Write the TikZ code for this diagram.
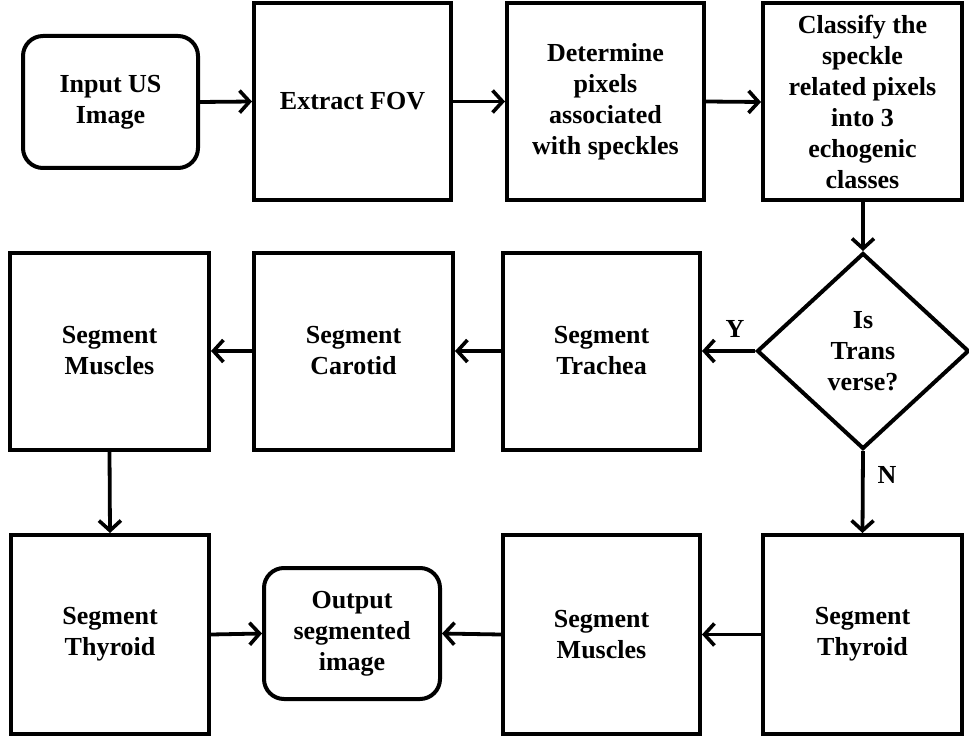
\documentclass[tikz,border=0pt]{standalone}
\usepackage{fontspec}
\setmainfont{Liberation Serif}
\usetikzlibrary{shapes.geometric,arrows.meta}
\begin{document}
\begin{tikzpicture}[x=1pt,y=-1pt,
  every node/.style={font=\fontsize{26}{31}\selectfont\bfseries, align=center, inner sep=0pt},
  box/.style={draw, line width=4pt, minimum width=197pt, minimum height=197pt},
  term/.style={draw, line width=4pt, rounded corners=20pt},
  decide/.style={draw, line width=4pt, diamond, minimum width=212pt, minimum height=196pt},
  flow/.style={line width=3.8pt, -{Straight Barb[length=10pt,width=22pt,line width=3.6pt]}},
  lbl/.style={font=\fontsize{26}{31}\selectfont\bfseries}
]
\useasboundingbox (0,0) rectangle (969,738);
% row 1
\node[term, minimum width=175pt, minimum height=132pt] (in) at (110.5,102) {Input US\\Image};
\node[box] (ext) at (352.5,101.5) {Extract FOV};
\node[box] (det) at (605.5,101.5) {Determine\\pixels\\associated\\with speckles};
\node[box, minimum width=199pt] (cls) at (862.5,102) {Classify the\\speckle\\related pixels\\into 3\\echogenic\\classes};
% row 2
\node[box, minimum width=199pt] (mus1) at (109.5,351) {Segment\\Muscles};
\node[box, minimum width=199pt] (car) at (353.5,351) {Segment\\Carotid};
\node[box] (tra) at (601.5,351) {Segment\\Trachea};
\node[decide] (dia) at (863,351) {Is\\Trans\\verse?};
% row 3
\node[box, minimum width=198pt, minimum height=199pt] (thy1) at (110,634.5) {Segment\\Thyroid};
\node[term, minimum width=176pt, minimum height=131pt] (out) at (352,633.5) {Output\\segmented\\image};
\node[box, minimum height=199pt] (mus2) at (601.5,634.5) {Segment\\Muscles};
\node[box, minimum width=199pt, minimum height=199pt] (thy2) at (862.5,634.5) {Segment\\Thyroid};
% connectors
\draw[flow] (in.east) -- (ext.west);
\draw[flow] (ext.east) -- (det.west);
\draw[flow] (det.east) -- (cls.west);
\draw[flow] (cls.south -| dia.north) -- (dia.north);
\draw[flow] (dia.west) -- (tra.east);
\draw[flow] (tra.west) -- (car.east);
\draw[flow] (car.west) -- (mus1.east);
\draw[flow] (mus1.south) -- (thy1.north);
\draw[flow] (thy1.east) -- (out.west);
\draw[flow] (dia.south) -- (thy2.north);
\draw[flow] (thy2.west) -- (mus2.east);
\draw[flow] (mus2.west) -- (out.east);
\node[lbl] (ylab) at (735,329) {Y};
\node[lbl] (nlab) at (887,475) {N};
\end{tikzpicture}
\end{document}
